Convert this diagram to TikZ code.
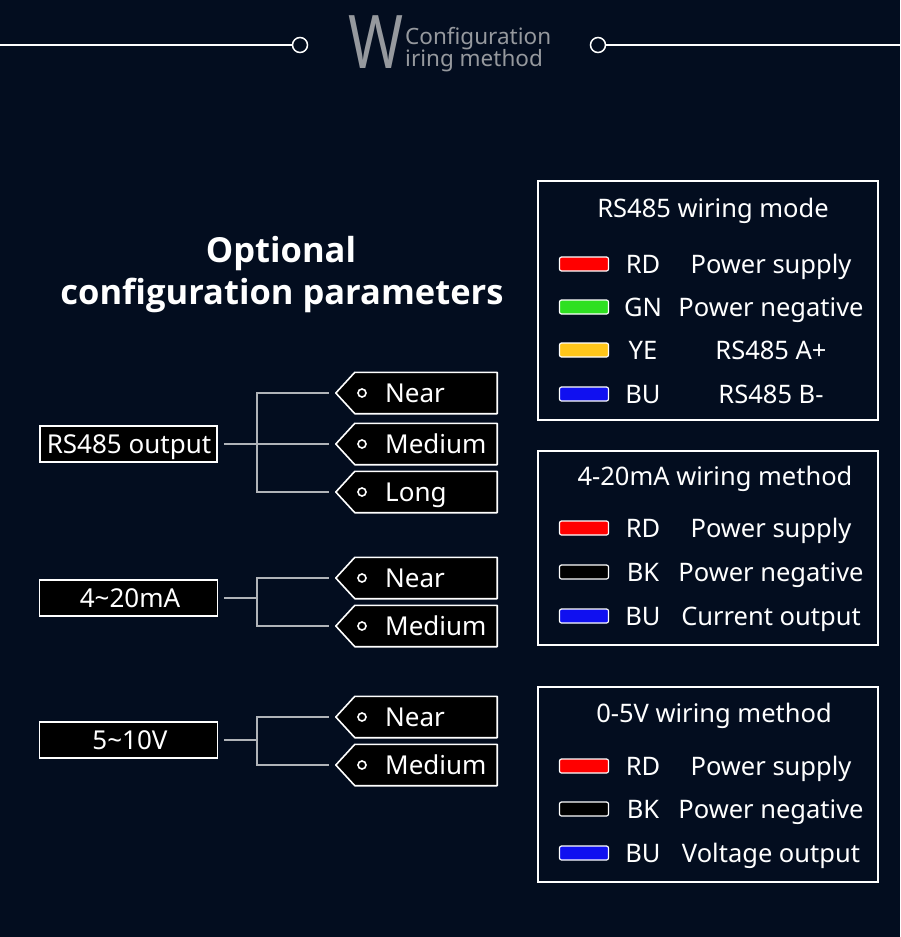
\documentclass[tikz,border=0pt]{standalone}
\usepackage{fontspec}
\usepackage{graphicx}
\setmainfont{Noto Sans}
\newfontfamily\titlefont{Open Sans}
\usetikzlibrary{calc}
\definecolor{bg}{RGB}{3,13,31}
\definecolor{hdr}{RGB}{150,153,158}
\definecolor{connc}{RGB}{176,179,184}
\definecolor{wred}{RGB}{255,0,0}
\definecolor{wgreen}{RGB}{46,224,33}
\definecolor{wyellow}{RGB}{255,198,26}
\definecolor{wblue}{RGB}{16,16,240}
\definecolor{wblack}{RGB}{0,0,0}
\tikzset{
  hline/.style={white, line width=1.2pt},
  hcirc/.style={circle, draw=white, line width=1.5pt, minimum size=15pt, inner sep=0pt},
  leftbox/.style={draw=white, fill=black, line width=1.8pt, minimum height=36pt, inner sep=0pt},
  lbtxt/.style={text=white, inner sep=0pt, anchor=base, font=\fontsize{26}{28}\selectfont},
  tagbody/.style={minimum width=142pt, minimum height=41pt, inner sep=0pt},
  tagline/.style={draw=white, fill=black, line width=1.6pt, line join=round},
  tagtxt/.style={text=white, inner sep=0pt, anchor=base west, font=\fontsize{26}{28}\selectfont},
  tagdot/.style={circle, draw=white, line width=1.6pt, minimum size=8pt, inner sep=0pt},
  conn/.style={connc, line width=1.4pt},
  rbox/.style={draw=white, line width=1.4pt, minimum width=340pt, inner sep=0pt},
  rtxt/.style={text=white, inner sep=0pt, anchor=base, font=\fontsize{25.5}{28}\selectfont},
  swatch/.style={draw=white, line width=1.2pt, rounded corners=2pt, minimum width=49pt, minimum height=14pt, inner sep=0pt},
}
\newcommand{\mytag}[3]{%
  \node[tagbody] (#1) at (426,#2) {};
  \draw[tagline] (#1.north east) -- (#1.north west) -- ($(#1.west)+(-19,0)$) -- (#1.south west) -- (#1.south east) -- cycle;
  \node[tagdot] (#1d) at (362,#2) {};
  \node[tagtxt] (#1t) at (385,#2+9.3) {#3};
}
\newcommand{\wrow}[5]{%
  \node[swatch, fill=#2] (#1s) at (584,#3) {};
  \node[rtxt] (#1c) at (643,#3+9) {#4};
  \node[rtxt] (#1t) at (771,#3+9) {#5};
}
\begin{document}
\begin{tikzpicture}[x=1pt,y=-1pt]
\fill[bg] (0,0) rectangle (900,937);
\useasboundingbox (0,0) rectangle (900,937);
% header
\node[hcirc] (hl) at (300,45) {};
\node[hcirc] (hr) at (598,45) {};
\coordinate (hl0) at (0,45);
\coordinate (hr0) at (900,45);
\draw[hline] (hl0) -- (hl.west);
\draw[hline] (hr.east) -- (hr0);
\node[text=hdr, inner sep=0pt, anchor=base west, font=\fontsize{74}{74}\selectfont] (bigW) at (348,68) {\scalebox{0.8}[1]{W}};
\node[text=hdr, inner sep=0pt, anchor=base west, font=\fontsize{22.5}{24}\selectfont] (cfg) at (405,44) {Configuration};
\node[text=hdr, inner sep=0pt, anchor=base west, font=\fontsize{22.5}{24}\selectfont] (wm) at (405,66) {iring method};
% title
\node[text=white, inner sep=0pt, anchor=base, font=\titlefont\bfseries\fontsize{34.5}{42}\selectfont] (title1) at (281,262) {Optional};
\node[text=white, inner sep=0pt, anchor=base, font=\titlefont\bfseries\fontsize{34.5}{42}\selectfont] (title2) at (282,304) {configuration parameters};
% left boxes
\node[leftbox, minimum width=177pt] (rs) at (128.5,444) {};
\node[lbtxt] (rst) at (129,453.3) {RS485 output};
\node[leftbox, minimum width=178pt] (ma) at (128.5,598) {};
\node[lbtxt] (mat) at (130,607.3) {4\char`\~20mA};
\node[leftbox, minimum width=178pt] (vv) at (128.5,740) {};
\node[lbtxt] (vvt) at (130,749.3) {5\char`\~10V};
% tags
\mytag{t1}{393}{Near}
\mytag{t2}{444}{Medium}
\mytag{t3}{492}{Long}
\mytag{t4}{578}{Near}
\mytag{t5}{626}{Medium}
\mytag{t6}{717}{Near}
\mytag{t7}{765}{Medium}
% connectors
\coordinate (j1) at (257,444);
\coordinate (j2) at (257,598);
\coordinate (j3) at (257,740);
\draw[conn] ([xshift=6pt]rs.east) -- ([xshift=-26pt]t2.west);
\draw[conn] ([xshift=-26pt]t1.west) -- (j1 |- t1) -- (j1 |- t3) -- ([xshift=-26pt]t3.west);
\draw[conn] ([xshift=6pt]ma.east) -- (j2);
\draw[conn] ([xshift=-26pt]t4.west) -- (j2 |- t4) -- (j2 |- t5) -- ([xshift=-26pt]t5.west);
\draw[conn] ([xshift=6pt]vv.east) -- (j3);
\draw[conn] ([xshift=-26pt]t6.west) -- (j3 |- t6) -- (j3 |- t7) -- ([xshift=-26pt]t7.west);
% right boxes
\node[rbox, minimum height=239pt] (b1) at (708,300.5) {};
\node[rtxt] (b1t) at (713,217) {RS485 wiring mode};
\wrow{a1}{wred}{264}{RD}{Power supply}
\wrow{a2}{wgreen}{307}{GN}{Power negative}
\wrow{a3}{wyellow}{350}{YE}{RS485 A+}
\wrow{a4}{wblue}{394}{BU}{RS485 B-}
\node[rbox, minimum height=194pt] (b2) at (708,548) {};
\node[rtxt] (b2t) at (715,485) {4-20mA wiring method};
\wrow{c1}{wred}{528}{RD}{Power supply}
\wrow{c2}{wblack}{572}{BK}{Power negative}
\wrow{c3}{wblue}{616}{BU}{Current output}
\node[rbox, minimum height=195pt] (b3) at (708,784.5) {};
\node[rtxt] (b3t) at (714,722) {0-5V wiring method};
\wrow{d1}{wred}{766}{RD}{Power supply}
\wrow{d2}{wblack}{809}{BK}{Power negative}
\wrow{d3}{wblue}{853}{BU}{Voltage output}
\end{tikzpicture}
\end{document}
